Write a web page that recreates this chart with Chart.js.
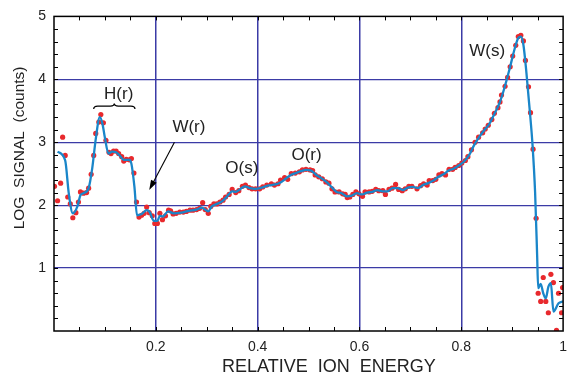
<!DOCTYPE html>
<html lang="en">
<head>
  <meta charset="UTF-8">
  <title>Log signal vs relative ion energy</title>
  <script src="https://cdn.jsdelivr.net/npm/chart.js"></script>
  <style>
    * { box-sizing: border-box; margin: 0; padding: 0; }
    body { background: #fff; }
    .chart-box { position: relative; width: 575px; height: 378px; }
  </style>
</head>
<body>

<div class="chart-box"><canvas id="ionChart"></canvas></div>

<script>
  // measured points (red dots)
  const energy = [
    0.001, 0.007, 0.013, 0.017, 0.022, 0.027, 0.032, 0.037, 0.043, 0.048,
    0.052, 0.058, 0.064, 0.068, 0.073, 0.078, 0.082, 0.088, 0.092, 0.097,
    0.102, 0.108, 0.112, 0.117, 0.122, 0.127, 0.133, 0.137, 0.142, 0.148,
    0.152, 0.157, 0.162, 0.167, 0.172, 0.177, 0.182, 0.187, 0.193, 0.198,
    0.203, 0.208, 0.213, 0.219, 0.225, 0.229, 0.234, 0.240, 0.247, 0.254,
    0.260, 0.267, 0.273, 0.280, 0.286, 0.292, 0.297, 0.303, 0.308, 0.314,
    0.320, 0.326, 0.332, 0.337, 0.344, 0.350, 0.357, 0.363, 0.370, 0.376,
    0.383, 0.389, 0.396, 0.404, 0.410, 0.418, 0.427, 0.433, 0.440, 0.445,
    0.453, 0.459, 0.466, 0.474, 0.482, 0.488, 0.495, 0.503, 0.508, 0.513,
    0.520, 0.527, 0.534, 0.540, 0.546, 0.552, 0.560, 0.567, 0.572, 0.576,
    0.581, 0.587, 0.593, 0.599, 0.606, 0.611, 0.619, 0.625, 0.632, 0.638,
    0.646, 0.651, 0.658, 0.664, 0.671, 0.677, 0.684, 0.690, 0.697, 0.703,
    0.713, 0.720, 0.726, 0.733, 0.737, 0.744, 0.750, 0.756, 0.762, 0.769,
    0.776, 0.783, 0.788, 0.795, 0.801, 0.808, 0.813, 0.820, 0.827, 0.834,
    0.842, 0.847, 0.853, 0.860, 0.865, 0.872, 0.876, 0.879, 0.886, 0.891,
    0.896, 0.901, 0.907, 0.912, 0.917, 0.922, 0.926, 0.932, 0.936, 0.941,
    0.947, 0.951, 0.956, 0.961, 0.966, 0.971, 0.976, 0.981, 0.987, 0.991,
    0.997, 0.999
  ];
  const signal = [
    2.30, 2.07, 2.35, 3.08, 2.79, 2.13, 2.02, 1.80, 1.88, 2.05,
    2.21, 2.19, 2.20, 2.27, 2.49, 2.79, 3.14, 3.32, 3.44, 3.31,
    3.03, 2.84, 2.82, 2.86, 2.86, 2.82, 2.77, 2.70, 2.73, 2.72,
    2.74, 2.51, 2.05, 1.81, 1.84, 1.87, 1.97, 1.88, 1.83, 1.71,
    1.71, 1.87, 1.77, 1.83, 1.92, 1.91, 1.86, 1.87, 1.89, 1.89,
    1.90, 1.92, 1.92, 1.93, 1.95, 2.04, 1.93, 1.87, 1.98, 2.02,
    2.02, 2.05, 2.08, 2.13, 2.17, 2.25, 2.20, 2.23, 2.30, 2.32,
    2.28, 2.26, 2.26, 2.26, 2.29, 2.32, 2.34, 2.32, 2.34, 2.40,
    2.44, 2.41, 2.50, 2.51, 2.53, 2.56, 2.57, 2.56, 2.55, 2.48,
    2.45, 2.42, 2.37, 2.35, 2.26, 2.21, 2.21, 2.18, 2.17, 2.12,
    2.13, 2.17, 2.21, 2.18, 2.14, 2.21, 2.21, 2.22, 2.25, 2.23,
    2.23, 2.17, 2.25, 2.27, 2.33, 2.25, 2.23, 2.26, 2.30, 2.30,
    2.26, 2.31, 2.34, 2.32, 2.39, 2.39, 2.41, 2.48, 2.50, 2.48,
    2.57, 2.57, 2.60, 2.63, 2.67, 2.71, 2.77, 2.88, 3.00, 3.08,
    3.15, 3.21, 3.27, 3.36, 3.46, 3.55, 3.64, 3.75, 3.89, 4.03,
    4.20, 4.37, 4.54, 4.68, 4.70, 4.61, 4.30, 3.88, 3.47, 2.89,
    1.79, 0.60, 0.47, 0.85, 0.47, 0.29, 0.90, 0.77, 0.01, 0.60,
    0.29, 0.69
  ];

  // fitted curve (blue line)
  const fitEnergy = [
    0.007, 0.022, 0.029, 0.037, 0.046, 0.052, 0.058, 0.068, 0.075, 0.082,
    0.090, 0.095, 0.100, 0.107, 0.114, 0.122, 0.129, 0.137, 0.148, 0.152,
    0.158, 0.163, 0.172, 0.182, 0.188, 0.196, 0.203, 0.208, 0.214, 0.224,
    0.235, 0.250, 0.265, 0.280, 0.290, 0.297, 0.303, 0.310, 0.320, 0.330,
    0.340, 0.350, 0.357, 0.365, 0.375, 0.385, 0.395, 0.405, 0.420, 0.435,
    0.445, 0.455, 0.465, 0.475, 0.485, 0.495, 0.505, 0.515, 0.525, 0.535,
    0.545, 0.555, 0.565, 0.575, 0.585, 0.595, 0.605, 0.615, 0.625, 0.635,
    0.645, 0.655, 0.665, 0.675, 0.685, 0.695, 0.705, 0.715, 0.725, 0.735,
    0.745, 0.755, 0.765, 0.775, 0.785, 0.795, 0.805, 0.815, 0.825, 0.835,
    0.845, 0.855, 0.865, 0.875, 0.885, 0.895, 0.905, 0.912, 0.917, 0.922,
    0.928, 0.934, 0.940, 0.945, 0.949, 0.951, 0.956, 0.961, 0.966, 0.971,
    0.976, 0.981, 0.991, 1.000
  ];
  const fitSignal = [
    2.85, 2.71, 2.19, 1.87, 1.98, 2.16, 2.19, 2.27, 2.58, 3.05,
    3.40, 3.30, 3.07, 2.82, 2.85, 2.84, 2.79, 2.72, 2.72, 2.66,
    2.29, 1.84, 1.86, 1.92, 1.89, 1.75, 1.75, 1.83, 1.82, 1.90,
    1.87, 1.88, 1.91, 1.93, 1.96, 1.93, 1.90, 1.98, 2.02, 2.06,
    2.14, 2.22, 2.21, 2.25, 2.30, 2.27, 2.26, 2.27, 2.31, 2.33,
    2.36, 2.42, 2.48, 2.51, 2.54, 2.56, 2.55, 2.48, 2.43, 2.37,
    2.29, 2.21, 2.19, 2.14, 2.15, 2.19, 2.17, 2.20, 2.21, 2.24,
    2.22, 2.22, 2.27, 2.27, 2.24, 2.28, 2.29, 2.27, 2.32, 2.35,
    2.39, 2.45, 2.49, 2.55, 2.58, 2.63, 2.69, 2.79, 2.95, 3.08,
    3.19, 3.29, 3.45, 3.62, 3.87, 4.17, 4.49, 4.66, 4.68, 4.55,
    4.10, 3.55, 2.95, 2.20, 1.20, 0.68, 0.75, 0.60, 0.52, 0.70,
    0.76, 0.31, 0.44, 0.47
  ];

  // peak labels (placed in data units)
  const notes = [
    { text: 'H(r)', x: 0.127, y: 3.76 },
    { text: 'W(r)', x: 0.265, y: 3.23 },
    { text: 'O(s)', x: 0.369, y: 2.59 },
    { text: 'O(r)', x: 0.496, y: 2.79 },
    { text: 'W(s)', x: 0.851, y: 4.44 }
  ];
  const arrowFrom = { x: 0.2366, y: 3.0 };
  const arrowTo = { x: 0.187, y: 2.24 };
  const brace = { x0: 0.078, x1: 0.159, y: 3.575 };

  const FONT = '"Liberation Sans", Arial, Helvetica, sans-serif';
  const GRID = '#3b3ba6';

  const pts = (xs, ys) => xs.map((v, i) => ({ x: v, y: ys[i] }));

  // frame, inward minor ticks, titles and annotations
  const decorations = {
    id: 'decorations',
    afterDatasetsDraw(chart) {
      const { ctx, chartArea: a, scales: { x, y } } = chart;
      ctx.save();

      ctx.strokeStyle = '#000';
      ctx.lineWidth = 1;
      ctx.beginPath();
      for (let i = 1; i < 20; i++) {
        const px = Math.round(x.getPixelForValue(i * 0.05)) + 0.5;
        ctx.moveTo(px, a.bottom); ctx.lineTo(px, a.bottom - 4);
        ctx.moveTo(px, a.top); ctx.lineTo(px, a.top + 4);
      }
      for (let i = 1; i < 25; i++) {
        const py = Math.round(y.getPixelForValue(i * 0.2)) + 0.5;
        ctx.moveTo(a.left, py); ctx.lineTo(a.left + 4, py);
        ctx.moveTo(a.right, py); ctx.lineTo(a.right - 4, py);
      }
      ctx.stroke();
      ctx.lineWidth = 1.5;
      ctx.strokeRect(a.left, a.top, a.right - a.left, a.bottom - a.top);

      // axis titles
      ctx.fillStyle = '#222';
      ctx.textAlign = 'center';
      ctx.textBaseline = 'middle';
      ctx.font = '18px ' + FONT;
      ctx.fillText('RELATIVE  ION  ENERGY', x.getPixelForValue(0.54), 367);
      ctx.save();
      ctx.translate(20, y.getPixelForValue(2.91));
      ctx.rotate(-Math.PI / 2);
      ctx.font = '15.5px ' + FONT;
      ctx.fillText('LOG  SIGNAL  (counts)', 0, 0);
      ctx.restore();

      // peak names
      ctx.font = '17px ' + FONT;
      notes.forEach(n => ctx.fillText(n.text, x.getPixelForValue(n.x), y.getPixelForValue(n.y)));

      // brace over H(r)
      const bx0 = x.getPixelForValue(brace.x0), bx1 = x.getPixelForValue(brace.x1);
      const bm = (bx0 + bx1) / 2, by = y.getPixelForValue(brace.y);
      ctx.lineWidth = 1.3;
      ctx.beginPath();
      ctx.moveTo(bx0, by + 3);
      ctx.quadraticCurveTo(bx0, by, bx0 + 4, by);
      ctx.lineTo(bm - 4, by);
      ctx.quadraticCurveTo(bm, by, bm, by - 2.5);
      ctx.quadraticCurveTo(bm, by, bm + 4, by);
      ctx.lineTo(bx1 - 4, by);
      ctx.quadraticCurveTo(bx1, by, bx1, by + 3);
      ctx.stroke();

      // arrow to W(r)
      const ax0 = x.getPixelForValue(arrowFrom.x), ay0 = y.getPixelForValue(arrowFrom.y);
      const ax1 = x.getPixelForValue(arrowTo.x), ay1 = y.getPixelForValue(arrowTo.y);
      const ang = Math.atan2(ay1 - ay0, ax1 - ax0);
      ctx.lineWidth = 1.1;
      ctx.beginPath();
      ctx.moveTo(ax0, ay0);
      ctx.lineTo(ax1 - 6 * Math.cos(ang), ay1 - 6 * Math.sin(ang));
      ctx.stroke();
      ctx.fillStyle = '#000';
      ctx.beginPath();
      ctx.moveTo(ax1, ay1);
      ctx.lineTo(ax1 - 10 * Math.cos(ang) + 3.2 * Math.sin(ang), ay1 - 10 * Math.sin(ang) - 3.2 * Math.cos(ang));
      ctx.lineTo(ax1 - 10 * Math.cos(ang) - 3.2 * Math.sin(ang), ay1 - 10 * Math.sin(ang) + 3.2 * Math.cos(ang));
      ctx.closePath();
      ctx.fill();

      ctx.restore();
    }
  };

  new Chart(document.getElementById('ionChart'), {
    type: 'scatter',
    data: {
      datasets: [
        {
          label: 'fit',
          data: pts(fitEnergy, fitSignal),
          showLine: true,
          borderColor: '#1a86c9',
          borderWidth: 2.3,
          pointRadius: 0,
          cubicInterpolationMode: 'monotone'
        },
        {
          label: 'measured',
          data: pts(energy, signal),
          backgroundColor: '#e8292d',
          borderWidth: 0,
          pointRadius: 2.6
        }
      ]
    },
    options: {
      responsive: true,
      maintainAspectRatio: false,
      animation: false,
      layout: { padding: { top: 16, right: 9, left: 0, bottom: 0 } },
      plugins: { legend: { display: false }, tooltip: { enabled: false } },
      scales: {
        x: {
          type: 'linear', min: 0, max: 1,
          afterFit: s => { s.height = 47; },
          border: { display: false },
          grid: {
            drawTicks: false,
            lineWidth: 1.5,
            color: c => (c.tick.value <= 0 || c.tick.value >= 1) ? 'rgba(0,0,0,0)' : GRID
          },
          ticks: {
            stepSize: 0.2, padding: 8, color: '#222',
            font: { family: FONT, size: 14 },
            callback: v => v === 0 ? '' : String(+v.toFixed(1))
          }
        },
        y: {
          type: 'linear', min: 0, max: 5,
          afterFit: s => { s.width = 54; },
          border: { display: false },
          grid: {
            drawTicks: false,
            lineWidth: 1.2,
            color: c => (c.tick.value <= 0 || c.tick.value >= 5) ? 'rgba(0,0,0,0)' : GRID
          },
          ticks: {
            stepSize: 1, padding: 8, color: '#222',
            font: { family: FONT, size: 14 },
            callback: v => v === 0 ? '' : v
          }
        }
      }
    },
    plugins: [decorations]
  });
</script>

</body>
</html>
